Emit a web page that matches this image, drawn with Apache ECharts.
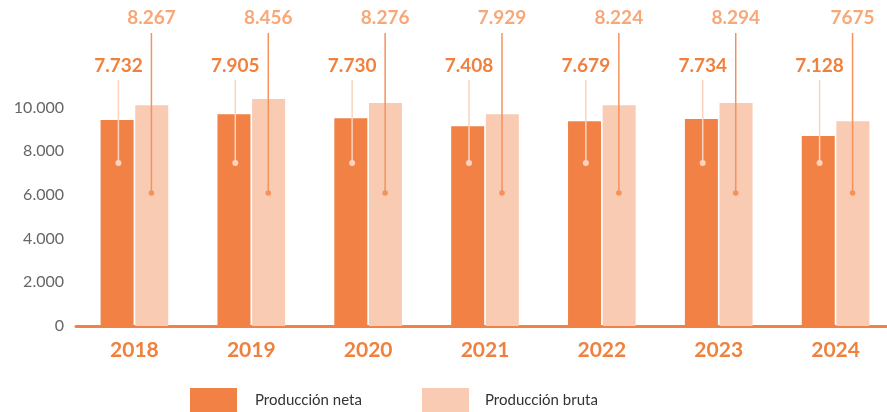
<!DOCTYPE html>
<html><head><meta charset="utf-8">
<script src="https://cdn.jsdelivr.net/npm/echarts@6/dist/echarts.min.js"></script>
<style>html,body{margin:0;padding:0;background:#fff}#c{width:887px;height:412px}</style>
</head><body><div id="c"></div>
<script>
const years = ['2018','2019','2020','2021','2022','2023','2024'];
const netaBars = [9420, 9690, 9510, 9140, 9370, 9465, 8690];
const brutaBars = [10100, 10380, 10200, 9690, 10100, 10200, 9370];
const netaLabels = ['7.732','7.905','7.730','7.408','7.679','7.734','7.128'];
const brutaLabels = ['8.267','8.456','8.276','7.929','8.224','8.294','7675'];
const yTicks = ['0','2.000','4.000','6.000','8.000','10.000'];

const C_NETA = '#F28146', C_BRUTA = '#F9CBB3';
const FONT = 'Lato';

function pinSeries(labels, dx, textY, lineTop, dotY, textColor, lineColor, r) {
  return {
    type: 'custom', clip: false, silent: true, z: 10,
    data: labels.map((t, i) => [i, t]),
    renderItem: function (params, api) {
      const x = api.coord([api.value(0), 0])[0] + dx;
      return { type: 'group', children: [
        { type: 'line', shape: { x1: x, y1: lineTop, x2: x, y2: dotY }, style: { stroke: lineColor, lineWidth: 1.5 } },
        { type: 'circle', shape: { cx: x, cy: dotY, r: r }, style: { fill: lineColor } },
        { type: 'text', style: { x: x, y: textY, text: labels[params.dataIndex], align: 'center', verticalAlign: 'middle',
          font: 'bold 19px ' + FONT, fill: textColor } }
      ]};
    }
  };
}

const chart = echarts.init(document.getElementById('c'));
chart.setOption({
  animation: false,
  grid: { left: 76, width: 818, top: 20, bottom: 86, outerBoundsMode: 'none', containLabel: false },
  legend: [
    { left: 190, top: 388, padding: 0, itemWidth: 47, itemHeight: 24, icon: 'rect', data: ['Producción neta'],
      textStyle: { fontFamily: FONT, fontSize: 15, color: '#333', padding: [0,0,0,13] } },
    { left: 422, top: 388, padding: 0, itemWidth: 47, itemHeight: 24, icon: 'rect', data: ['Producción bruta'],
      textStyle: { fontFamily: FONT, fontSize: 15, color: '#333', padding: [0,0,0,11] } }
  ],
  xAxis: {
    type: 'category', data: years,
    axisLine: { show: true, lineStyle: { color: C_NETA, width: 3 } },
    axisTick: { show: false },
    axisLabel: { fontFamily: FONT, fontSize: 21, fontWeight: 'bold', color: '#F0803E', margin: 14 }
  },
  yAxis: {
    type: 'value', min: 0, max: 14000, interval: 2000,
    splitLine: { show: false }, axisLine: { show: false }, axisTick: { show: false },
    axisLabel: { fontFamily: FONT, fontSize: 16, color: '#666', margin: 12,
      formatter: function (v) { const i = Math.round(v / 2000); return i < yTicks.length ? yTicks[i] : ''; } }
  },
  series: [
    { name: 'Producción neta', type: 'bar', data: netaBars, barWidth: 33, barGap: '5%', itemStyle: { color: C_NETA } },
    { name: 'Producción bruta', type: 'bar', data: brutaBars, barWidth: 33, itemStyle: { color: C_BRUTA } },
    pinSeries(netaLabels, -16, 66, 80, 163, '#F0803E', '#FBD3BF', 3),
    pinSeries(brutaLabels, 17, 18, 33, 193, '#F8A878', '#F4925C', 2.8)
  ]
});
</script></body></html>
